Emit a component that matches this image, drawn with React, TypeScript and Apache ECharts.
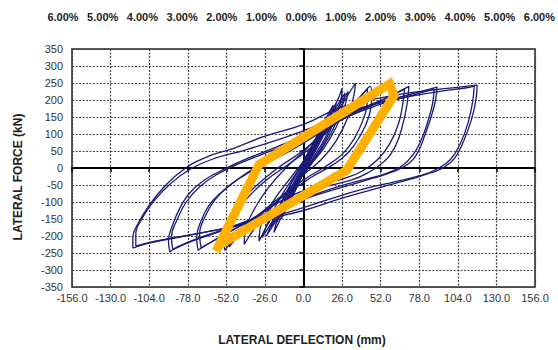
import React, { useEffect, useRef } from "react";
import * as echarts from "echarts";

// Hysteresis loops: [lateral deflection (mm), lateral force (kN)]
const loopA1: number[][] = [
  [-115, -236], [-115, -205], [-111, -160], [-104, -110], [-94, -56], [-81, -5], [-65, 33], [-47, 58],
  [-27, 92], [0, 128], [25, 178], [50, 205], [80, 226], [105, 238], [117, 244], [116, 195], [113, 140],
  [108, 80], [102, 30], [95, 3], [86, -14], [72, -33], [52, -57], [25, -90], [0, -125], [-27, -152],
  [-49, -174], [-80, -200], [-105, -222], [-115, -236],
];
const loopA2: number[][] = [
  [-113, -230], [-113, -195], [-109, -150], [-101, -98], [-90, -48], [-77, -5], [-60, 28], [-40, 52],
  [-18, 82], [5, 118], [30, 165], [60, 200], [90, 224], [110, 236], [115, 241], [114, 195], [111, 135],
  [106, 75], [99, 25], [90, -3], [79, -22], [62, -40], [40, -62], [15, -95], [-10, -130], [-40, -165],
  [-70, -192], [-100, -215], [-113, -230],
];
const loopB1: number[][] = [
  [-90, -247], [-91, -215], [-88, -165], [-83, -115], [-77, -75], [-67, -36], [-51, 2], [-36, 31],
  [-18, 62], [0, 95], [25, 150], [50, 190], [75, 220], [90, 238], [89, 200], [86, 150], [82, 100],
  [77, 46], [70, 10], [59, -13], [47, -30], [25, -58], [0, -92], [-25, -135], [-50, -175], [-70, -205],
  [-85, -232], [-90, -247],
];
const loopB2: number[][] = [
  [-88, -240], [-89, -205], [-85, -150], [-79, -100], [-70, -55], [-58, -18], [-44, 12], [-25, 45],
  [0, 88], [25, 142], [50, 185], [75, 216], [88, 232], [87, 190], [84, 140], [80, 90], [74, 40],
  [66, 5], [55, -17], [40, -35], [18, -62], [-5, -100], [-30, -145], [-55, -185], [-75, -215], [-88, -240],
];
const loopC1: number[][] = [
  [-71, -242], [-72, -205], [-69, -155], [-64, -112], [-56, -74], [-45, -36], [-36, -8], [-20, 32],
  [0, 78], [25, 140], [50, 192], [65, 226], [71, 240], [70, 195], [67, 130], [62, 65],
  [54, 18], [43, -15], [32, -36], [15, -55], [0, -78], [-25, -132], [-50, -188], [-65, -225], [-71, -242],
];
const loopC2: number[][] = [
  [-69, -235], [-70, -195], [-66, -140], [-60, -95], [-51, -55], [-40, -22], [-28, 8], [-10, 48],
  [10, 100], [35, 165], [55, 205], [68, 232], [67, 190], [64, 130], [58, 70], [50, 25], [40, -8],
  [28, -30], [10, -52], [-10, -85], [-35, -150], [-55, -200], [-69, -235],
];
const loopD1: number[][] = [
  [-53, -242], [-54, -205], [-49, -145], [-41, -92], [-30, -45], [-18, -2], [0, 52], [20, 128],
  [35, 192], [45, 240], [46, 205], [44, 150], [38, 93], [30, 45], [20, 10], [5, -28], [-15, -88],
  [-35, -160], [-48, -215], [-53, -242],
];
const loopD2: number[][] = [
  [-50, -232], [-50, -190], [-45, -130], [-36, -80], [-25, -35], [-12, 5], [5, 60], [22, 135],
  [36, 200], [43, 232], [43, 195], [40, 140], [34, 85], [26, 40], [15, 5], [0, -35], [-20, -100],
  [-38, -170], [-50, -232],
];
const loopE: number[][] = [
  [-40, -225], [-39, -180], [-33, -120], [-24, -60], [-12, 0], [5, 70], [20, 150], [30, 215], [35, 250],
  [34, 215], [30, 150], [22, 80], [12, 25], [0, -20], [-15, -85], [-30, -160], [-40, -225],
];
const loopF: number[][] = [
  [-30, -215], [-28, -160], [-20, -95], [-8, -25], [5, 50], [15, 130], [23, 200], [26, 235], [25, 195],
  [20, 130], [12, 60], [2, 0], [-10, -70], [-22, -150], [-30, -215],
];
const loopG: number[][] = [
  [-20, -190], [-16, -130], [-8, -55], [2, 30], [12, 120], [20, 185], [17, 140], [9, 60], [0, -10],
  [-10, -100], [-20, -190],
];
const loopH: number[][] = [
  [-15, -150], [-10, -90], [-3, -20], [6, 60], [15, 150], [12, 100], [5, 30], [-4, -50], [-15, -150],
];
const loopI: number[][] = [
  [-10, -110], [-5, -50], [2, 20], [10, 100], [7, 60], [0, -10], [-10, -110],
];
const loopJ: number[][] = [
  [-25, -200], [-18, -130], [-10, -60], [0, 20], [10, 100], [22, 190], [18, 120], [8, 40], [-5, -50],
  [-15, -130], [-25, -200],
];
const loopK: number[][] = [
  [-22, -175], [-17, -120], [-9, -50], [0, 20], [10, 95], [20, 165], [28, 220], [26, 180], [20, 115],
  [12, 55], [3, 0], [-8, -70], [-22, -175],
];
const loopL: number[][] = [
  [-18, -160], [-12, -95], [-5, -35], [4, 35], [13, 110], [18, 150], [15, 110], [8, 50], [-1, -20],
  [-10, -95], [-18, -160],
];
const loopM: number[][] = [
  [-28, -205], [-22, -140], [-14, -75], [-4, -10], [8, 65], [18, 140], [30, 225], [28, 185], [22, 120],
  [14, 60], [5, 10], [-6, -55], [-17, -130], [-28, -205],
];
const loopN: number[][] = [
  [-12, -125], [-7, -70], [0, -5], [8, 70], [14, 125], [10, 80], [3, 15], [-5, -60], [-12, -125],
];

const hysteresisLoops: number[][][] = [
  loopA1, loopA2, loopB1, loopB2, loopC1, loopC2, loopD1, loopD2, loopE, loopF, loopG, loopH, loopI, loopJ,
  loopK, loopL, loopM, loopN,
];

// Orange idealised envelope
const envelope: number[][] = [
  [-59, -245], [-30, 10], [58, 247], [61, 213], [29, -7], [-55, -222],
];

const X_MIN = -156;
const X_MAX = 156;
const X_STEP = 26;
const Y_MIN = -350;
const Y_MAX = 350;
const Y_STEP = 50;

const X_TITLE = "LATERAL DEFLECTION (mm)";
const Y_TITLE = "LATERAL FORCE (kN)";

const FONT = '"Liberation Sans", Arial, Helvetica, sans-serif';

export default function App() {
  const ref = useRef<HTMLDivElement>(null);

  useEffect(() => {
    if (!ref.current) return;
    const chart = echarts.init(ref.current, null, { renderer: "svg" });
    const gridLine = { show: true, lineStyle: { color: "#444", type: [2, 1.5], width: 1.2 } };

    const blueSeries = hysteresisLoops.map((loop, i) => ({
      type: "line",
      name: "loop" + i,
      xAxisIndex: 0,
      yAxisIndex: 0,
      data: loop,
      smooth: 0.45,
      showSymbol: false,
      symbol: "none",
      lineStyle: { color: "#1a1a78", width: 1.3 },
      z: 3,
    }));

    chart.setOption({
      animation: false,
      backgroundColor: "#ffffff",
      textStyle: { fontFamily: FONT },
      grid: [
        { left: 72, right: 23, top: 49, bottom: 63, show: true, borderColor: "#222", borderWidth: 1.5, backgroundColor: "transparent" },
        { left: 63, right: 18, top: 30, height: 10, show: false },
      ],
      xAxis: [
        {
          type: "value", gridIndex: 0, min: X_MIN, max: X_MAX, interval: X_STEP, position: "bottom",
          axisLine: { show: false, onZero: false }, axisTick: { show: false },
          axisLabel: { formatter: (v: number) => v.toFixed(1), color: "#333", fontSize: 11, margin: 5, fontFamily: FONT },
          splitLine: gridLine,
        },
        {
          type: "value", gridIndex: 0, min: X_MIN, max: X_MAX, interval: X_STEP, position: "bottom",
          axisLine: { show: true, onZero: true, onZeroAxisIndex: 0, lineStyle: { color: "#000", width: 2 } },
          axisTick: { show: true, length: 4, lineStyle: { color: "#000", width: 1.5 } },
          axisLabel: { show: false }, splitLine: { show: false },
        },
        {
          type: "value", gridIndex: 1, min: X_MIN, max: X_MAX, interval: X_STEP, position: "top",
          axisLine: { show: false, onZero: false }, axisTick: { show: false }, splitLine: { show: false },
          axisLabel: {
            formatter: (v: number) => (Math.abs(v) / X_STEP).toFixed(2) + "%",
            fontWeight: "bold", fontSize: 11, color: "#222", margin: 8, fontFamily: FONT,
          },
        },
      ],
      yAxis: [
        {
          type: "value", gridIndex: 0, min: Y_MIN, max: Y_MAX, interval: Y_STEP, position: "left",
          axisLine: { show: false, onZero: false }, axisTick: { show: false },
          axisLabel: { color: "#333", fontSize: 11, margin: 9, fontFamily: FONT },
          splitLine: gridLine,
        },
        {
          type: "value", gridIndex: 0, min: Y_MIN, max: Y_MAX, interval: Y_STEP, position: "left",
          axisLine: { show: true, onZero: true, onZeroAxisIndex: 0, lineStyle: { color: "#000", width: 2 } },
          axisTick: { show: true, length: 4, lineStyle: { color: "#000", width: 1.5 } },
          axisLabel: { show: false }, splitLine: { show: false },
        },
        { type: "value", gridIndex: 1, show: false, min: 0, max: 1 },
      ],
      graphic: [
        {
          type: "text", x: 302, y: 340,
          style: { text: X_TITLE, font: `bold 12px ${FONT}`, fill: "#222", align: "center", verticalAlign: "middle", textAlign: "center", textVerticalAlign: "middle" },
        },
        {
          type: "text", x: 18, y: 177, rotation: Math.PI / 2,
          style: { text: Y_TITLE, font: `bold 12px ${FONT}`, fill: "#222", align: "center", verticalAlign: "middle", textAlign: "center", textVerticalAlign: "middle" },
        },
      ],
      series: [
        ...blueSeries,
        {
          type: "line", name: "envelope", xAxisIndex: 0, yAxisIndex: 0, data: envelope,
          showSymbol: false, symbol: "none", smooth: false,
          lineStyle: { color: "#FFB000", width: 9, cap: "butt", join: "miter" }, z: 5,
        },
      ],
    });
    return () => chart.dispose();
  }, []);

  return <div ref={ref} style={{ position: "fixed", left: 0, top: 0, width: 558, height: 350 }} />;
}
